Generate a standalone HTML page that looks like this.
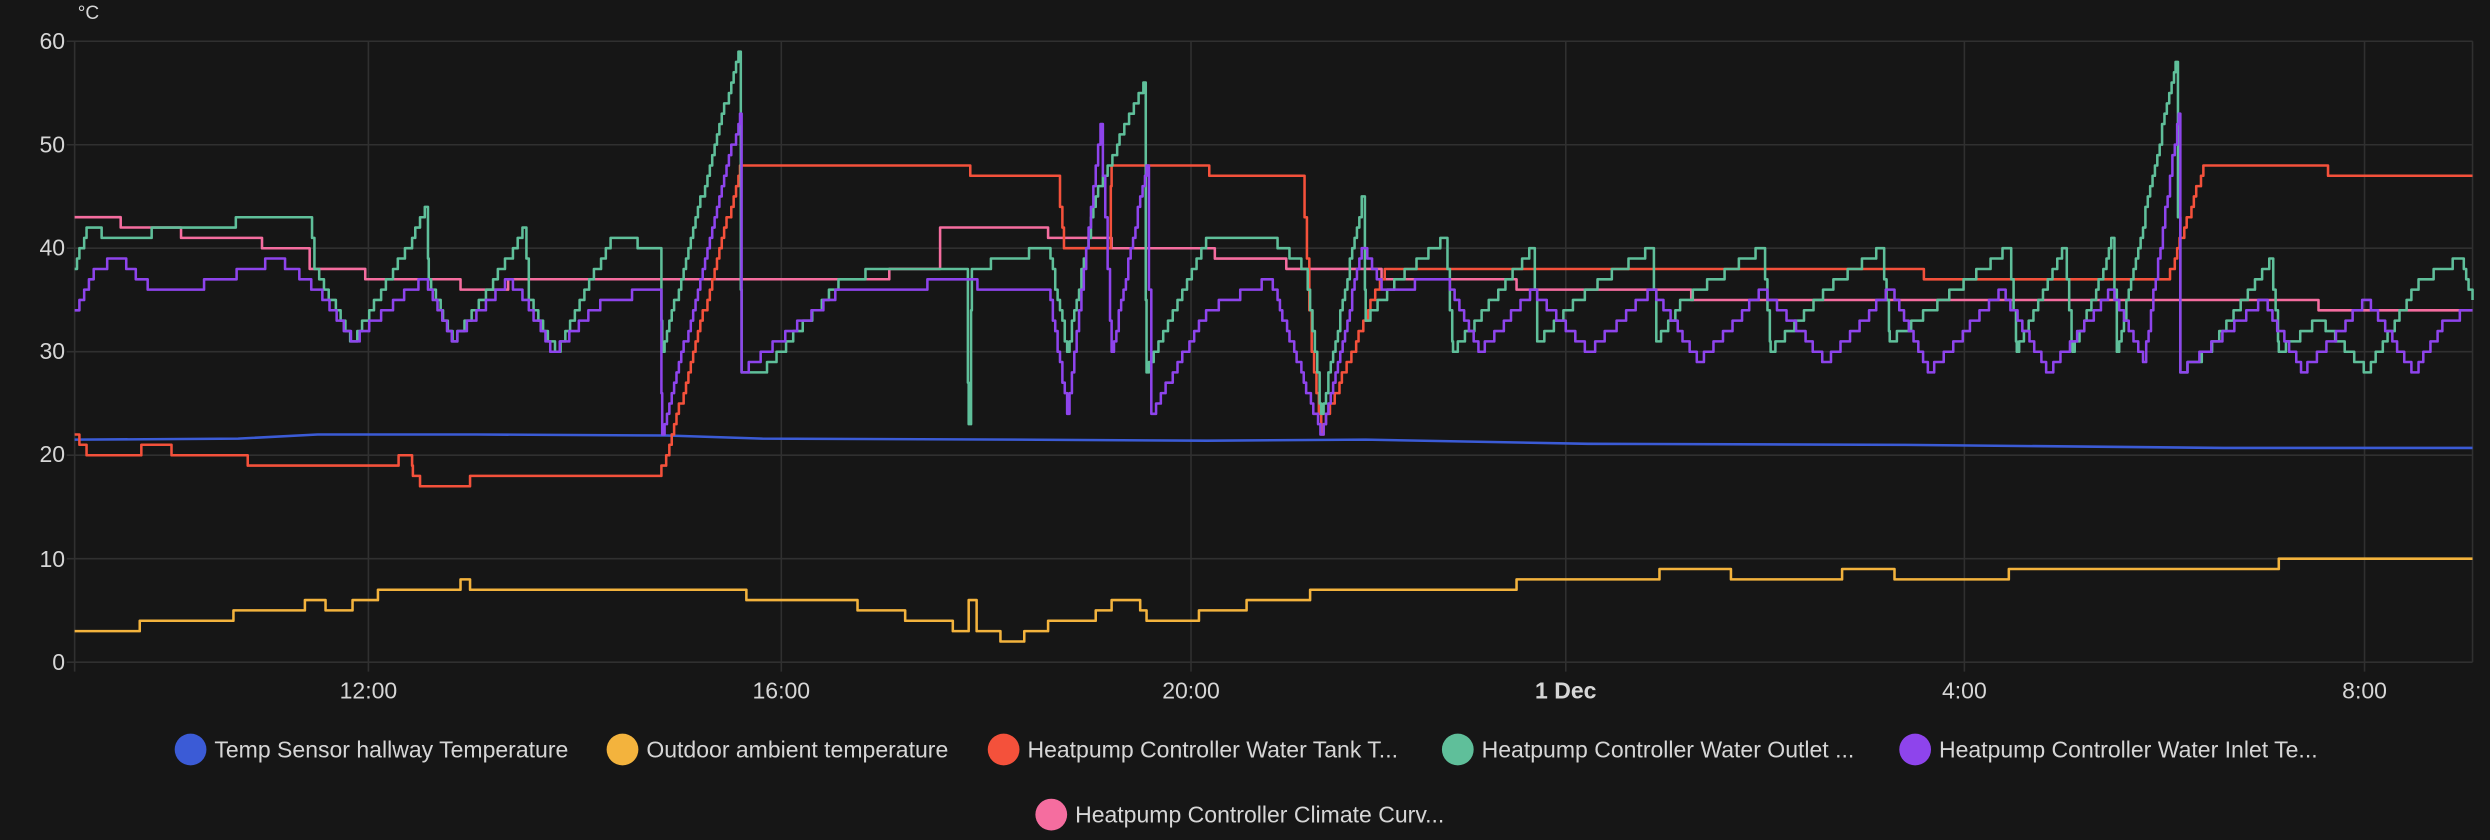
<!DOCTYPE html>
<html><head><meta charset="utf-8"><style>
html,body{margin:0;padding:0;background:#161616;}
svg{display:block;}
text{font-family:"Liberation Sans",sans-serif;fill:#d6d6d6;}
</style></head><body>
<svg id="s" width="2490" height="840" viewBox="0 0 1568 529" preserveAspectRatio="none" xmlns="http://www.w3.org/2000/svg">
<rect width="1568" height="529" fill="#161616"/>
<g id="grid" stroke="#303030" stroke-width="1"></g>
<g font-size="14.5">
<text x="49" y="12" font-size="12">°C</text>
<text x="41" y="31" text-anchor="end">60</text>
<text x="41" y="96" text-anchor="end">50</text>
<text x="41" y="161" text-anchor="end">40</text>
<text x="41" y="226" text-anchor="end">30</text>
<text x="41" y="291" text-anchor="end">20</text>
<text x="41" y="357" text-anchor="end">10</text>
<text x="41" y="422" text-anchor="end">0</text>
<text x="232" y="440" text-anchor="middle">12:00</text>
<text x="492" y="440" text-anchor="middle">16:00</text>
<text x="750" y="440" text-anchor="middle">20:00</text>
<text x="986" y="440" text-anchor="middle" font-weight="bold">1 Dec</text>
<text x="1237" y="440" text-anchor="middle">4:00</text>
<text x="1489" y="440" text-anchor="middle">8:00</text>
</g>
<g id="series" fill="none" stroke-width="1.6" stroke-linejoin="round"></g>
<g font-size="14.5">
<circle cx="120" cy="472" r="10" fill="#3b5bd6"/><text x="135" y="477">Temp Sensor hallway Temperature</text>
<circle cx="392" cy="472" r="10" fill="#f3b33d"/><text x="407" y="477">Outdoor ambient temperature</text>
<circle cx="632" cy="472" r="10" fill="#f4513b"/><text x="647" y="477">Heatpump Controller Water Tank T...</text>
<circle cx="918" cy="472" r="10" fill="#5fbf9a"/><text x="933" y="477">Heatpump Controller Water Outlet ...</text>
<circle cx="1206" cy="472" r="10" fill="#8e44ec"/><text x="1221" y="477">Heatpump Controller Water Inlet Te...</text>
<circle cx="662" cy="513" r="10" fill="#f56d9f"/><text x="677" y="518">Heatpump Controller Climate Curv...</text>
</g>
</svg>
<script>
var NS="http://www.w3.org/2000/svg";
function Y(v){return 417-v*6.517;}
var g=document.getElementById('grid');
function ln(x1,y1,x2,y2){var l=document.createElementNS(NS,'line');l.setAttribute('x1',x1);l.setAttribute('y1',y1);l.setAttribute('x2',x2);l.setAttribute('y2',y2);g.appendChild(l);}
for(var v=0;v<=60;v+=10)ln(42,Y(v),1557,Y(v));
[47,232,492,750,986,1237,1489,1557].forEach(function(x){ln(x,Y(60),x,x==1557?417:423);});
var S=document.getElementById('series');
function add(d,c){var p=document.createElementNS(NS,'path');p.setAttribute('d',d);p.setAttribute('stroke',c);S.appendChild(p);}
function step(a,c){var d='M'+a[0][0]+','+Y(a[0][1]);for(var i=1;i<a.length;i++){d+='H'+a[i][0]+'V'+Y(a[i][1]);}d+='H1557';add(d,c);}
function saw(k,c){var pts=[];for(var i=0;i<k.length-1;i++){var x0=k[i][0],v0=k[i][1],x1=k[i+1][0],v1=k[i+1][1];for(var x=x0;x<x1;x+=1.5){pts.push([x,Math.round(v0+(v1-v0)*(x-x0)/(x1-x0))]);}}pts.push(k[k.length-1]);
var d='M'+pts[0][0]+','+Y(pts[0][1]);for(var j=1;j<pts.length;j++){if(pts[j][1]!=pts[j-1][1])d+='H'+pts[j][0].toFixed(1)+'V'+Y(pts[j][1]).toFixed(1);}d+='H'+k[k.length-1][0];add(d,c);}
// blue
add('M47,'+Y(21.5)+' L150,'+Y(21.6)+' L200,'+Y(22)+' L300,'+Y(22)+' L420,'+Y(21.9)+' L480,'+Y(21.6)+' L640,'+Y(21.5)+' L760,'+Y(21.4)+' L860,'+Y(21.5)+' L1000,'+Y(21.1)+' L1200,'+Y(21)+' L1400,'+Y(20.7)+' L1557,'+Y(20.7),'#3b5bd6');
// yellow
step([[47,3],[88,4],[147,5],[192,6],[205,5],[222,6],[238,7],[290,8],[296,7],[470,6],[540,5],[570,4],[600,3],[610,6],[615,3],[630,2],[645,3],[660,4],[690,5],[700,6],[718,5],[722,4],[755,5],[785,6],[825,7],[915,7],[955,8],[1045,9],[1090,8],[1160,9],[1193,8],[1265,9],[1435,10]],'#f3b33d');
// pink
step([[47,43],[76,42],[114,41],[165,40],[195,38],[230,37],[290,36],[320,37],[560,38],[592,42],[660,41],[700,40],[765,39],[810,38],[870,37],[955,36],[1065,35],[1255,35],[1460,34]],'#f56d9f');
// red
saw([[47,22],[50,21],[56,20],[88,20],[89,21],[107,21],[108,20],[155,20],[156,19],[250,19],[251,20],[258,20],[260,18],[266,17],[295,17],[296,18],[415,18],[420,20],[465,47],[466,48],[610,48],[611,47],[666,47],[670,40],[698,40],[700,48],[760,48],[762,47],[820,47],[826,30],[832,22],[836,24],[872,38],[1210,38],[1212,37],[1365,37],[1388,48],[1465,48],[1466,47],[1557,47]],'#f4513b');
// green
saw([[47,38],[55,42],[70,41],[120,42],[175,43],[195,43],[198,38],[222,31],[260,41],[268,44],[270,37],[285,31],[320,39],[330,42],[333,35],[350,30],[385,41],[415,40],[417,30],[465,59],[467,28],[480,28],[530,37],[560,38],[608,38],[610,23],[612,38],[660,40],[672,30],[690,45],[720,56],[722,28],[760,41],[770,41],[800,41],[822,38],[832,24],[858,45],[860,33],[880,37],[910,41],[915,30],[965,40],[968,31],[1000,36],[1040,40],[1043,31],[1060,35],[1080,37],[1110,40],[1115,30],[1150,36],[1185,40],[1190,31],[1240,37],[1265,40],[1270,30],[1300,40],[1305,30],[1325,38],[1330,41],[1333,30],[1370,58],[1373,28],[1390,30],[1430,39],[1435,30],[1460,33],[1490,28],[1520,36],[1525,37],[1550,39],[1557,35]],'#5fbf9a');
// purple
saw([[47,34],[60,38],[75,39],[95,36],[115,36],[140,37],[175,39],[200,36],[222,31],[250,35],[268,37],[285,31],[320,37],[330,35],[348,30],[380,35],[415,36],[417,22],[466,53],[467,28],[490,31],[530,36],[560,36],[608,37],[620,36],[660,36],[672,24],[693,52],[700,30],[722,48],[725,24],[760,34],[800,37],[832,22],[858,40],[870,36],[910,37],[932,30],[965,36],[1000,30],[1040,36],[1070,29],[1110,36],[1150,29],[1190,36],[1215,28],[1260,36],[1290,28],[1330,36],[1350,29],[1372,53],[1373,28],[1395,31],[1425,35],[1450,28],[1490,35],[1520,28],[1540,33],[1557,34]],'#8e44ec');
</script>
</body></html>
